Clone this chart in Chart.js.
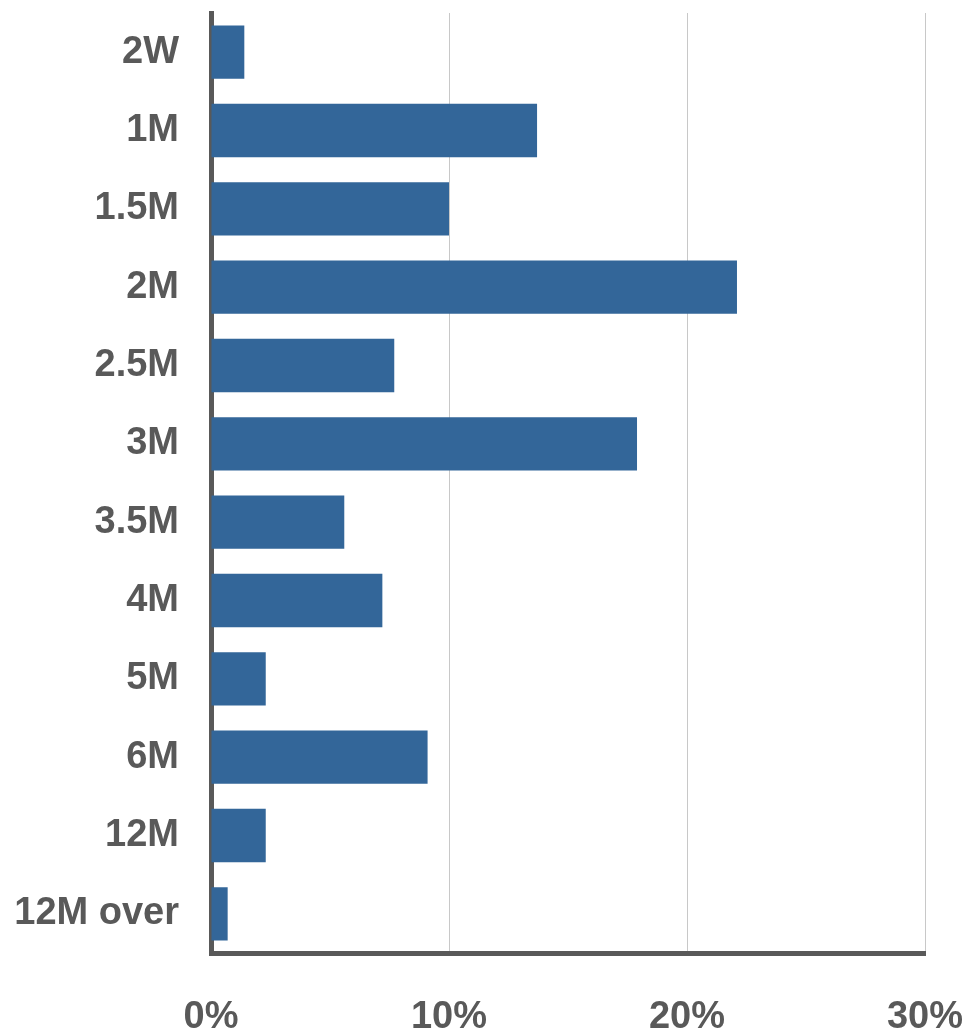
<!DOCTYPE html>
<html>
<head>
<meta charset="utf-8">
<script src="https://cdn.jsdelivr.net/npm/chart.js@4"></script>
<style>
  html, body { margin: 0; padding: 0; background: #fff; }
  #wrap { width: 962px; height: 1032px; }
</style>
</head>
<body>
<div id="wrap"><canvas id="myChart" width="962" height="1032"></canvas></div>
<script>
const categories = ["2W", "1M", "1.5M", "2M", "2.5M", "3M", "3.5M", "4M", "5M", "6M", "12M", "12M over"];
const shares = [1.4, 13.7, 10.0, 22.1, 7.7, 17.9, 5.6, 7.2, 2.3, 9.1, 2.3, 0.7];
const xTicks = [0, 10, 20, 30];

const textColor = "#595959";
const labelFont = { family: "'Liberation Sans', Arial, sans-serif", size: 38, weight: "bold" };

let ctx = document.getElementById("myChart").getContext("2d");
let myChart = new Chart(ctx, {
  type: "bar",
  data: {
    labels: categories,
    datasets: [
      {
        data: shares,
        backgroundColor: "#336699",
        categoryPercentage: 1,
        barPercentage: 0.68,
      },
    ],
  },
  options: {
    indexAxis: "y",
    responsive: false,
    animation: false,
    layout: { padding: { top: 13, right: 37, left: 0, bottom: 0 } },
    plugins: {
      legend: { display: false },
      tooltip: { enabled: false },
    },
    scales: {
      x: {
        min: 0,
        max: 30,
        afterBuildTicks: (axis) => {
          axis.ticks = xTicks.map((v) => ({ value: v }));
        },
        afterFit: (axis) => {
          axis.height = 79;
          axis.paddingLeft = 0;
          axis.paddingRight = 0;
        },
        ticks: {
          color: textColor,
          font: labelFont,
          padding: 42,
          maxRotation: 0,
          callback: (v) => v + "%",
        },
        grid: {
          color: "#c8c8c8",
          lineWidth: 1,
          drawTicks: false,
        },
        border: { color: textColor, width: 5 },
      },
      y: {
        afterFit: (axis) => {
          axis.width = 211;
          axis.paddingTop = 0;
          axis.paddingBottom = 0;
        },
        ticks: {
          color: textColor,
          font: labelFont,
          padding: 32,
        },
        grid: { display: false, drawTicks: false },
        border: { color: textColor, width: 5 },
      },
    },
  },
});
</script>
</body>
</html>
